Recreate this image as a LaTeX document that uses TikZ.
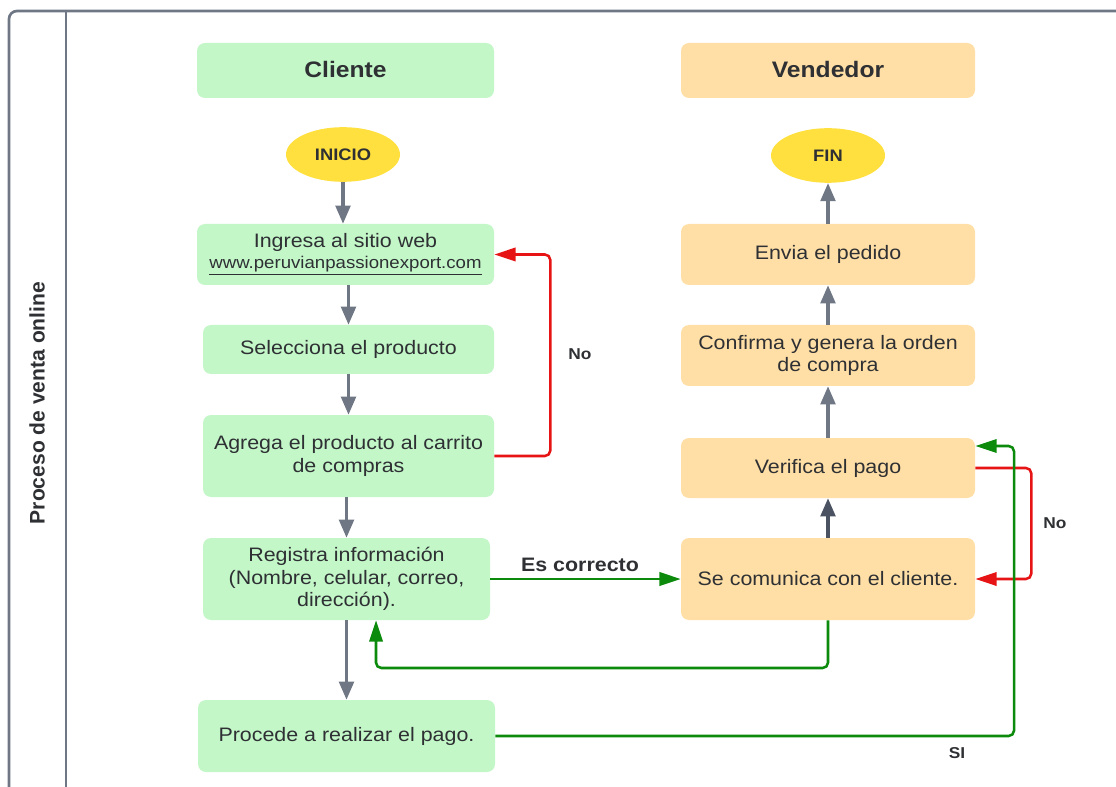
\documentclass[tikz,border=0pt]{standalone}
\usepackage{fontspec}
\setmainfont{Liberation Sans}[FakeStretch=1.1]
\newfontfamily\lanefont{Liberation Sans}
\usetikzlibrary{arrows.meta,shapes.geometric}
\definecolor{cliefill}{HTML}{C3F7C8}
\definecolor{vendfill}{HTML}{FFDFA6}
\definecolor{termfill}{HTML}{FFE03F}
\definecolor{framegray}{HTML}{6F7785}
\definecolor{darkarrow}{HTML}{4B5261}
\definecolor{noRed}{HTML}{E61414}
\definecolor{okGreen}{HTML}{0B8A0B}
\definecolor{txt}{HTML}{2E3033}
\begin{document}
\begin{tikzpicture}[x=0.75pt,y=-0.75pt,
  every node/.style={text=txt, inner sep=0pt},
  stepbox/.style={rectangle, rounded corners=6pt, draw=none, align=center,
    font=\fontsize{14.6}{16.8}\selectfont},
  cbox/.style={stepbox, fill=cliefill},
  vbox/.style={stepbox, fill=vendfill},
  header/.style={rectangle, rounded corners=6pt, font=\fontsize{16.8}{20}\selectfont\bfseries},
  term/.style={ellipse, fill=termfill, minimum width=85.5pt, minimum height=41pt,
    font=\fontsize{12.5}{14}\selectfont\bfseries},
  garrow/.style={draw=framegray, line width=2.3pt, -{Triangle[length=13.5pt,width=11pt]}},
  rarrow/.style={draw=noRed, line width=1.9pt, rounded corners=4pt, -{Triangle[length=16pt,width=10pt]}},
  okarrow/.style={draw=okGreen, line width=1.9pt, rounded corners=4pt, -{Triangle[length=16pt,width=10pt]}},
  lbl/.style={font=\fontsize{11.8}{14}\selectfont\bfseries},
  framel/.style={draw=framegray, line width=2pt}]
\useasboundingbox (0,0) rectangle (1116,787);
\clip (0,0) rectangle (1116,787);

% swimlane frame
\draw[framel, rounded corners=6pt] (9,800) -- (9,11) -- (1130,11);
\draw[framel] (66,11) -- (66,800);
\node[rotate=90, font=\lanefont\fontsize{15.8}{20}\selectfont\bfseries] (lane) at (37,403) {Proceso de venta online};

% column headers
\node[header, fill=cliefill, minimum width=222.75pt, minimum height=41.25pt] (hcli) at (345.5,70.5) {\raisebox{1.5pt}{Cliente}};
\node[header, fill=vendfill, minimum width=220.5pt, minimum height=41.25pt] (hven) at (828,70.5) {\raisebox{1.5pt}{Vendedor}};

% terminals
\node[term] (ini) at (343,154.5) {INICIO};
\node[term] (fin) at (828,155.5) {FIN};

% customer steps
\node[cbox, minimum width=222.75pt, minimum height=45.75pt] (ing) at (345.5,254.5)
  {Ingresa al sitio web\\[-1pt]{\fontsize{12.7}{14}\selectfont\underline{www.peruvianpassionexport.com}}};
\node[cbox, minimum width=218.25pt, minimum height=36.75pt] (sel) at (348.5,349.5) {Selecciona el producto};
\node[cbox, minimum width=218.25pt, minimum height=61.5pt] (agr) at (348.5,456) {Agrega el producto al carrito\\de compras};
\node[cbox, minimum width=215.25pt, minimum height=61.5pt] (reg) at (346.5,579) {Registra información\\(Nombre, celular, correo,\\dirección).};
\node[cbox, minimum width=222.75pt, minimum height=54pt] (pro) at (346.5,736) {Procede a realizar el pago.};

% seller steps
\node[vbox, minimum width=220.5pt, minimum height=45.75pt] (env) at (828,254.5) {Envia el pedido};
\node[vbox, minimum width=220.5pt, minimum height=45.75pt] (con) at (828,355.5) {Confirma y genera la orden\\de compra};
\node[vbox, minimum width=220.5pt, minimum height=45pt] (ver) at (828,468) {Verifica el pago};
\node[vbox, minimum width=220.5pt, minimum height=61.5pt] (com) at (828,579) {Se comunica con el cliente.};

% main flow
\draw[garrow] (ini) -- (ini |- ing.north);
\draw[garrow] (ing.south -| sel) -- (sel);
\draw[garrow] (agr |- sel.south) -- (agr);
\draw[garrow] (agr.south -| reg) -- (reg);
\draw[garrow] (reg) -- (pro);
\draw[garrow] (ver) -- (con);
\draw[garrow] (con) -- (env);
\draw[garrow] (env) -- (fin);
\draw[garrow, draw=darkarrow] (com) -- (ver);

% decision loops
\draw[rarrow] (agr.east) -- ++(56,0) |- (ing.east);
\node[lbl] (no1) at (580,354) {No};
\draw[rarrow] (ver.east) -- ++(56,0) |- (com.east);
\node[lbl] (no2) at (1055,523) {No};

\draw[okarrow] (reg.east) -- (com.west);
\node[lbl, font=\fontsize{14.6}{16}\selectfont\bfseries] (ok) at (580,565) {Es correcto};

\coordinate (back) at (376,668);
\draw[okarrow] (com.south) |- (back) -- (back |- reg.south);

\coordinate (siR) at (1014,446);
\draw[okarrow] (pro.east) -| (siR) -- (siR -| ver.east);
\node[lbl] (si) at (957,753) {SI};
\end{tikzpicture}
\end{document}
